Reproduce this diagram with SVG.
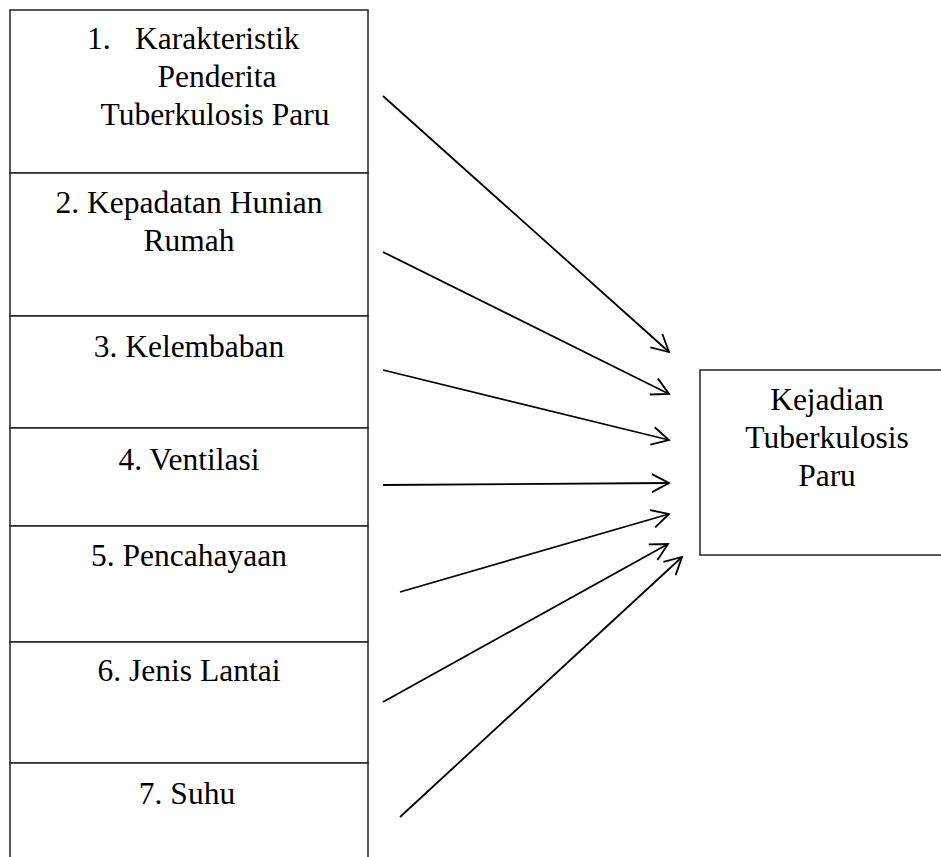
<svg xmlns="http://www.w3.org/2000/svg" width="941" height="857" viewBox="0 0 941 857">
<defs>
<style>
.box{fill:#fff;stroke:#222;stroke-width:1.5}
.t{font-family:"Liberation Serif","Times New Roman",serif;font-size:31.5px;fill:#000}
.c{text-anchor:middle}
.arr{stroke:#000;stroke-width:1.8;fill:none;marker-end:url(#ah)}
</style>
<marker id="ah" markerUnits="userSpaceOnUse" markerWidth="40" markerHeight="40" viewBox="-20 -20 40 40" refX="0" refY="0" orient="auto" overflow="visible">
<path d="M-17,-9 L0,0 L-17,9" fill="none" stroke="#000" stroke-width="1.8"/>
</marker>
</defs>
<rect width="941" height="857" fill="#fff"/>
<g id="n1"><rect class="box" x="10" y="10" width="358" height="163"/>
<text class="t" x="87" y="49">1.</text><text class="t" x="135" y="49">Karakteristik</text>
<text class="t c" x="217" y="87">Penderita</text>
<text class="t c" x="215" y="125">Tuberkulosis Paru</text></g>
<g id="n2"><rect class="box" x="10" y="173" width="358" height="143"/>
<text class="t c" x="189" y="213">2. Kepadatan Hunian</text>
<text class="t c" x="189" y="251">Rumah</text></g>
<g id="n3"><rect class="box" x="10" y="316" width="358" height="112"/>
<text class="t c" x="189" y="357">3. Kelembaban</text></g>
<g id="n4"><rect class="box" x="10" y="428" width="358" height="98"/>
<text class="t c" x="189" y="470">4. Ventilasi</text></g>
<g id="n5"><rect class="box" x="10" y="526" width="358" height="116"/>
<text class="t c" x="189" y="566">5. Pencahayaan</text></g>
<g id="n6"><rect class="box" x="10" y="642" width="358" height="121"/>
<text class="t c" x="189" y="681">6. Jenis Lantai</text></g>
<g id="n7"><rect class="box" x="10" y="763" width="358" height="110"/>
<text class="t c" x="187" y="804">7. Suhu</text></g>
<g id="target"><rect class="box" x="700" y="370" width="260" height="185"/>
<text class="t c" x="827" y="410">Kejadian</text>
<text class="t c" x="827" y="448">Tuberkulosis</text>
<text class="t c" x="827" y="486">Paru</text></g>
<g id="connectors">
<line class="arr" x1="383" y1="96" x2="669" y2="352"/>
<line class="arr" x1="383" y1="252" x2="669" y2="394"/>
<line class="arr" x1="383" y1="370" x2="669" y2="440"/>
<line class="arr" x1="383" y1="485" x2="669" y2="483"/>
<line class="arr" x1="400" y1="592" x2="669" y2="514"/>
<line class="arr" x1="383" y1="702" x2="668" y2="544"/>
<line class="arr" x1="400" y1="817" x2="682" y2="557"/>
</g>
</svg>
